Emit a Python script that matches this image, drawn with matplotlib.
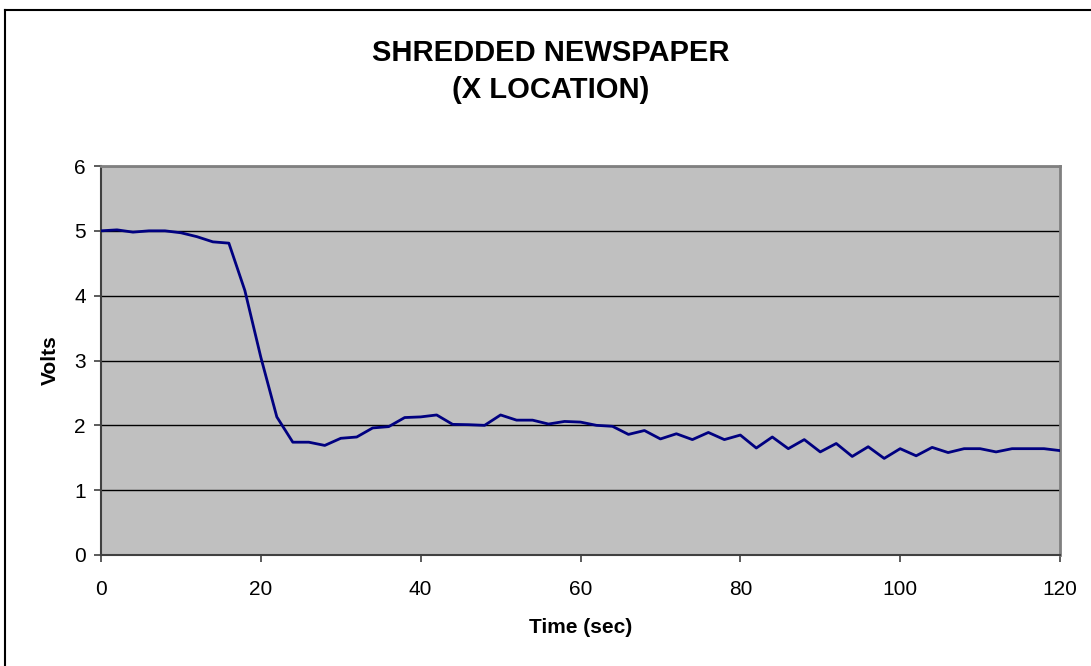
import matplotlib
matplotlib.use("Agg")
import matplotlib.pyplot as plt
from matplotlib.lines import Line2D

plt.rcParams['font.family'] = ['Liberation Sans', 'DejaVu Sans']

time_sec = list(range(0, 121, 2))
volts = [5.00, 5.015, 4.98, 5.00, 5.00, 4.97, 4.91, 4.83, 4.81, 4.08,
         3.05, 2.13, 1.74, 1.74, 1.69, 1.80, 1.82, 1.96, 1.98, 2.12,
         2.13, 2.16, 2.015, 2.01, 2.00, 2.16, 2.08, 2.08, 2.02, 2.06,
         2.05, 2.00, 1.985, 1.86, 1.92, 1.79, 1.87, 1.78, 1.89, 1.78,
         1.85, 1.65, 1.82, 1.64, 1.78, 1.59, 1.72, 1.52, 1.67, 1.49,
         1.64, 1.53, 1.66, 1.58, 1.64, 1.64, 1.59, 1.64, 1.64, 1.64,
         1.61]
x_ticks = [0, 20, 40, 60, 80, 100, 120]
y_ticks = [0, 1, 2, 3, 4, 5, 6]
title = "SHREDDED NEWSPAPER\n(X LOCATION)"
x_label = "Time (sec)"
y_label = "Volts"

W, H = 1091, 666
fig = plt.figure(figsize=(W / 100, H / 100), dpi=100)
fig.patch.set_facecolor('white')

ax = fig.add_axes([101 / W, (H - 555) / H, (1060 - 101) / W, (555 - 166) / H])
ax.set_facecolor('#C0C0C0')
ax.plot(time_sec, volts, color='#000080', linewidth=2.0, zorder=3)
ax.set_xlim(0, 120)
ax.set_ylim(0, 6)
ax.set_xticks(x_ticks)
ax.set_yticks(y_ticks)
ax.yaxis.grid(True, color='black', linewidth=1.0)
ax.set_axisbelow(True)
for side in ['top', 'right']:
    ax.spines[side].set_color('#808080')
    ax.spines[side].set_linewidth(2.0)
ax.spines['left'].set_color('#404040')
ax.spines['left'].set_linewidth(1.5)
ax.spines['bottom'].set_color('#404040')
ax.spines['bottom'].set_linewidth(1.5)
ax.tick_params(axis='both', direction='out', length=5, width=1.2, color='#404040',
               labelsize=15, labelcolor='black')
ax.tick_params(axis='y', pad=6)
ax.tick_params(axis='x', pad=13)

ax.set_xlabel(x_label, fontsize=15, fontweight='bold', labelpad=14)
ax.set_ylabel(y_label, fontsize=15, fontweight='bold', labelpad=10)

fig.text(551 / W, 1 - 71.5 / H, title, ha='center', va='center', fontsize=21,
         fontweight='bold', linespacing=1.4)

# outer chart border (left and top edges visible)
fig.add_artist(Line2D([5 / W, 5 / W], [-0.1, 1 - 10 / H], transform=fig.transFigure,
                      color='black', linewidth=1.5))
fig.add_artist(Line2D([5 / W, 1.1], [1 - 10 / H, 1 - 10 / H], transform=fig.transFigure,
                      color='black', linewidth=1.5))

fig.savefig('out.png', dpi=100)
